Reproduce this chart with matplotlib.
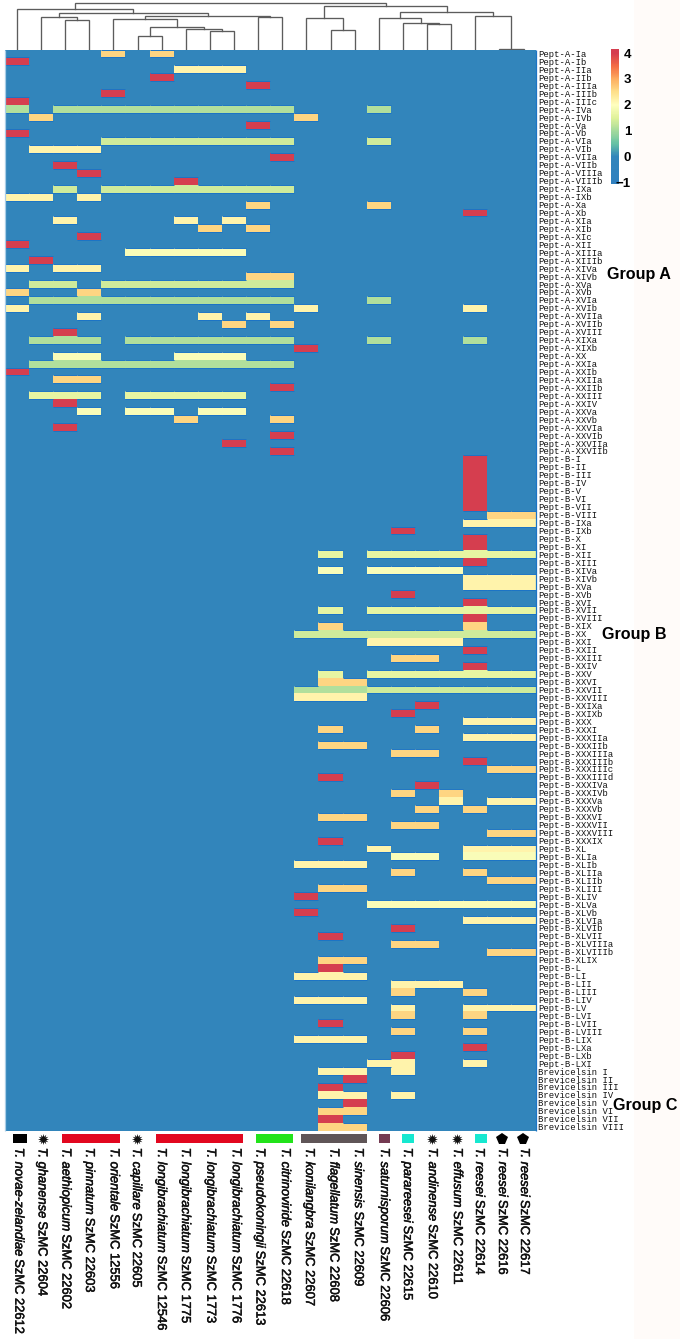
import numpy as np
import matplotlib
matplotlib.use('Agg')
import matplotlib.pyplot as plt
import matplotlib.patheffects as pe
from matplotlib.colors import LinearSegmentedColormap, Normalize
from matplotlib.patches import Rectangle

WIDTH, HEIGHT = 680, 1339

# peptide names, top to bottom
group_a_labels = ['Ia', 'Ib', 'IIa', 'IIb', 'IIIa', 'IIIb', 'IIIc', 'IVa', 'IVb', 'Va', 'Vb', 'VIa', 'VIb',
                  'VIIa', 'VIIb', 'VIIIa', 'VIIIb', 'IXa', 'IXb', 'Xa', 'Xb', 'XIa', 'XIb', 'XIc', 'XII',
                  'XIIIa', 'XIIIb', 'XIVa', 'XIVb', 'XVa', 'XVb', 'XVIa', 'XVIb', 'XVIIa', 'XVIIb', 'XVIII',
                  'XIXa', 'XIXb', 'XX', 'XXIa', 'XXIb', 'XXIIa', 'XXIIb', 'XXIII', 'XXIV', 'XXVa', 'XXVb',
                  'XXVIa', 'XXVIb', 'XXVIIa', 'XXVIIb']
group_b_labels = ['I', 'II', 'III', 'IV', 'V', 'VI', 'VII', 'VIII', 'IXa', 'IXb', 'X', 'XI', 'XII', 'XIII',
                  'XIVa', 'XIVb', 'XVa', 'XVb', 'XVI', 'XVII', 'XVIII', 'XIX', 'XX', 'XXI', 'XXII', 'XXIII',
                  'XXIV', 'XXV', 'XXVI', 'XXVII', 'XXVIII', 'XXIXa', 'XXIXb', 'XXX', 'XXXI', 'XXXIIa', 'XXXIIb',
                  'XXXIIIa', 'XXXIIIb', 'XXXIIIc', 'XXXIIId', 'XXXIVa', 'XXXIVb', 'XXXVa', 'XXXVb', 'XXXVI',
                  'XXXVII', 'XXXVIII', 'XXXIX', 'XL', 'XLIa', 'XLIb', 'XLIIa', 'XLIIb', 'XLIII', 'XLIV', 'XLVa',
                  'XLVb', 'XLVIa', 'XLVIb', 'XLVII', 'XLVIIIa', 'XLVIIIb', 'XLIX', 'L', 'LI', 'LII', 'LIII',
                  'LIV', 'LV', 'LVI', 'LVII', 'LVIII', 'LIX', 'LXa', 'LXb', 'LXI']
group_c_labels = ['I', 'II', 'III', 'IV', 'V', 'VI', 'VII', 'VIII']

# one character per strain, see level_values
group_a_rows = [
    '....O.O...............', 'R.....................', '.......PPP............', '......R...............',
    '..........R...........', '....R.................', 'R.....................', 'G.GGGGGGGGGG...G......',
    '.O..........O.........', '..........R...........', 'R.....................', '....KKKKKKKK...K......',
    '.PPP..................', '...........R..........', '..R...................', '...R..................',
    '.......R..............', '..K.KKKKKKKK..........', 'PP.P..................', '..........O....O......',
    '...................R..', '..P....P.P............', '........O.O...........', '...R..................',
    'R.....................', '.....YYYYY............', '.R....................', 'P.PP..................',
    '..........OO..........', '.KK.KKKKKKKK..........', 'O..O..................', '.GGGGGGGGGGG...G......',
    'P...........P......P..', '...P....P.P...........', '.........O.O..........', '..R...................',
    '.GGG.GGGGGGG...G...G..', '............R.........', '..YY...YYY............', '.GGGGGGGGGGG..........',
    'R.....................', '..OO..................', '...........R..........', '.LLL.LLLLL............',
    '..R...................', '...Y.YY.YY............', '.......O...O..........', '..R...................',
    '...........R..........', '.........R............', '...........R..........',
]
# groups B and C only use the last ten strains
group_b_rows = [
    '.......R..', '.......R..', '.......R..', '.......R..', '.......R..', '.......R..', '.......R..', '........OO',
    '.......PPP', '....R.....', '.......R..', '.......R..', '.L.LLLLLLL', '.......R..', '.Y.YYYY...', '.......PPP',
    '.......PPP', '....R.....', '.......R..', '.L.LLLLLLL', '.......R..', '.O.....O..', 'KKKKKKKKKK', '...PPPP...',
    '.......R..', '....OO....', '.......R..', '.L.LLLLLLL', '.OO.......', 'GGGKKKKKKK', 'PPP.......', '.....R....',
    '....R.....', '.......PPP', '.O...O....', '.......PPP', '.OO.......', '....OO....', '.......R..', '........OO',
    '.R........', '.....R....', '....O.O...', '......P.PP', '.....O.O..', '.OO.......', '....OO....', '........OO',
    '.R........', '...P...PPP', '....YY.YYY', 'PPP.......', '....O..O..', '........OO', '.OO.......', 'R.........',
    '...YYYYYYY', 'R.........', '.......PPP', '....R.....', '.R........', '....OO....', '........OO', '.OO.......',
    '.R........', 'PPP.......', '....PPP...', '....O..O..', 'PPP.......', '....P..PPP', '....O..O..', '.R........',
    '....O..O..', 'PPP.......', '.......R..', '....R.....', '...PP..P..',
]
group_c_rows = ['.PP.P.....', '..R.......', '.R........', '.PP.P.....', '..R.......', '.OO.......', '.R........', '.OO.......']

level_values = {'.': 0, 'G': 1.1, 'K': 1.35, 'L': 1.6, 'Y': 1.9, 'P': 2.2, 'O': 2.6, 'R': 4}

strain_species = ['T. novae-zelandiae', 'T. ghanense', 'T. aethiopicum', 'T. pinnatum', 'T. orientale', 'T. capillare',
                  'T. longibrachiatum', 'T. longibrachiatum', 'T. longibrachiatum', 'T. longibrachiatum',
                  'T. pseudokoningii', 'T. citrinoviride', 'T. konilangbra', 'T. flagellatum', 'T. sinensis',
                  'T. saturnisporum', 'T. parareesei', 'T. andinense', 'T. effusum', 'T. reesei', 'T. reesei', 'T. reesei']
strain_codes = ['SzMC 22612', 'SzMC 22604', 'SzMC 22602', 'SzMC 22603', 'SzMC 12556', 'SzMC 22605', 'SzMC 12546',
                'SzMC 1775', 'SzMC 1773', 'SzMC 1776', 'SzMC 22613', 'SzMC 22618', 'SzMC 22607', 'SzMC 22608',
                'SzMC 22609', 'SzMC 22606', 'SzMC 22615', 'SzMC 22610', 'SzMC 22611', 'SzMC 22614', 'SzMC 22616', 'SzMC 22617']

# dendrogram merges, ids from 22 on are earlier merges
dendro_left = [20, 8, 7, 5, 25, 4, 10, 27, 2, 1, 31, 0, 13, 12, 17, 16, 15, 19, 38, 35, 33]
dendro_right = [21, 9, 23, 6, 24, 26, 11, 28, 3, 30, 29, 32, 14, 34, 18, 36, 37, 22, 39, 40, 41]
dendro_height = [0.5, 19, 21, 14, 23, 31, 33, 33.5, 29.5, 32.5, 37, 41, 20, 32, 26, 27, 32, 34, 38, 43.5, 47]

colorbar_ticks = [4, 3, 2, 1, 0, -1]

# layout in pixels of the reference
HEAT_BOX = (4.8, 49.5, 535.6, 1130.7)
STRAIN_X = [18.3, 41.7, 65.5, 89, 113.8, 136, 161, 185, 210.3, 235.8, 259.5, 285, 309, 333.5, 358, 384, 407, 432, 457, 479, 502, 524]
CLADE_BARS = [(12.7, 26.7, '#000000'), (62.3, 120.3, '#e2071f'), (156, 242.7, '#e2071f'), (255.7, 293, '#22e31a'),
              (301, 366.5, '#5f5557'), (379, 389.5, '#743a52'), (402, 414, '#16e8d0'), (475, 486.5, '#16e8d0')]
STAR_X = [42.7, 137, 432, 457]
PENTAGON_X = [502, 523]

plt.rcParams['font.family'] = ['Liberation Sans', 'DejaVu Sans']


def px_axes(fig, x0, y0, x1, y1):
    return fig.add_axes([x0 / WIDTH, 1 - y1 / HEIGHT, (x1 - x0) / WIDTH, (y1 - y0) / HEIGHT])


def heat_matrix():
    rows = group_a_rows + ['.' * 12 + r for r in group_b_rows + group_c_rows]
    return np.array([[level_values[c] for c in r] for r in rows], dtype=float)


def row_names():
    return (['Pept-A-' + s for s in group_a_labels] + ['Pept-B-' + s for s in group_b_labels]
            + ['Brevicelsin ' + s for s in group_c_labels])


def plot_dendrogram(ax):
    xs = {i: i + 0.5 for i in range(22)}
    ys = {i: 0.0 for i in range(22)}
    for k, (a, b, h) in enumerate(zip(dendro_left, dendro_right, dendro_height)):
        ax.plot([xs[a], xs[a], xs[b], xs[b]], [ys[a], h, h, ys[b]], color='#5c5c5c', lw=0.95, solid_joinstyle='miter')
        xs[22 + k] = (xs[a] + xs[b]) / 2
        ys[22 + k] = h
    ax.set_xlim(0, 22)
    ax.set_ylim(0, HEAT_BOX[1])
    ax.axis('off')


def plot():
    fig = plt.figure(figsize=(WIDTH / 100, HEIGHT / 100), dpi=100)

    # whole-figure pixel canvas for annotations
    canvas = fig.add_axes([0, 0, 1, 1])
    canvas.set_xlim(0, WIDTH)
    canvas.set_ylim(HEIGHT, 0)
    canvas.axis('off')
    canvas.add_patch(Rectangle((634, 0), WIDTH - 634, HEIGHT, color='#fffbf9', lw=0))

    colors = [(-1, '#2f80bf'), (0, '#3285bb'), (0.5, '#66c2a5'), (1, '#a5da9c'), (1.5, '#e0f29a'), (2, '#ffffbf'),
              (2.5, '#fee08b'), (3, '#fdae61'), (3.5, '#f46d43'), (4, '#d53e4f')]
    cmap = LinearSegmentedColormap.from_list('heat', [((v + 1) / 5, c) for v, c in colors])
    norm = Normalize(-1, 4)

    x0, y0, x1, y1 = HEAT_BOX
    ax = px_axes(fig, x0, y0, x1, y1)
    data = heat_matrix()
    nrow = data.shape[0]
    ax.pcolormesh(np.arange(23), np.arange(nrow + 1), data, cmap=cmap, norm=norm)

    # the source has a saturated blue rim where a coloured cell meets the background
    rim = '#1c74c6'
    for r, c in zip(*np.nonzero(data)):
        if r == 0 or data[r - 1, c] == 0:
            ax.hlines(r, c, c + 1, color=rim, lw=0.7)
        if r == nrow - 1 or data[r + 1, c] == 0:
            ax.hlines(r + 1, c, c + 1, color=rim, lw=0.7)
    ax.vlines(22, 0, nrow, color=rim, lw=0.9, clip_on=False)
    ax.vlines(0, 0, nrow, color='#a9cde6', lw=0.9, clip_on=False)

    ax.set_ylim(nrow, 0)
    ax.set_xlim(0, 22)
    ax.set_xticks([])
    ax.set_yticks(np.arange(nrow) + 0.5)
    ax.set_yticklabels(row_names(), family='Liberation Mono', fontsize=6.4, color='#111111')
    ax.yaxis.tick_right()
    ax.tick_params(axis='y', length=0, pad=1.7)
    for s in ax.spines.values():
        s.set_visible(False)

    plot_dendrogram(px_axes(fig, x0, 0, x1, y0))

    # colorbar, axis slightly overshoots so the tick labels sit inside like the original
    cax = px_axes(fig, 610.7, 49.4, 619.4, 184)
    vals = np.linspace(-1.05, 4.14, 256)
    cax.pcolormesh([0, 1], np.linspace(-1.05, 4.14, 257), vals[:, None], cmap=cmap, norm=norm)
    cax.set_xticks([])
    cax.set_yticks(colorbar_ticks)
    cax.yaxis.tick_right()
    cax.tick_params(axis='y', length=0, pad=8.4, labelsize=9.5)
    for lab in cax.get_yticklabels():
        lab.set_ha('right')
        lab.set_fontweight('bold')
    for s in cax.spines.values():
        s.set_visible(False)

    # group names
    canvas.text(607, 274, 'Group A', fontsize=11.6, fontweight='bold', va='center')
    canvas.text(602, 634, 'Group B', fontsize=11.6, fontweight='bold', va='center')
    canvas.text(613, 1105.5, 'Group C', fontsize=11.6, fontweight='bold', va='center')

    # clade strip
    for a, b, c in CLADE_BARS:
        canvas.add_patch(Rectangle((a, 1134), b - a, 8.8, color=c, lw=0))
    canvas.plot(STAR_X, [1139] * len(STAR_X), ls='', marker=(12, 1, 0), ms=8, color='#111111', mew=0)
    canvas.plot(PENTAGON_X, [1139] * len(PENTAGON_X), ls='', marker='p', ms=8.5, color='#000000', mew=0)

    # strain names, italic species then plain code below it; the source is heavier than regular
    renderer = fig.canvas.get_renderer()
    heavier = [pe.withStroke(linewidth=0.35, foreground='#111111')]
    for x, sp, code in zip(STRAIN_X, strain_species, strain_codes):
        t = canvas.text(x, 1147.7, sp, rotation=-90, ha='center', va='top', fontsize=9.3, style='italic',
                        color='#111111', path_effects=heavier)
        length = t.get_window_extent(renderer).height
        canvas.text(x, 1147.7 + length + 3.3, code, rotation=-90, ha='center', va='top', fontsize=9.3,
                    color='#111111', path_effects=heavier)

    fig.savefig('out.png', dpi=100)


if __name__ == '__main__':
    plot()
